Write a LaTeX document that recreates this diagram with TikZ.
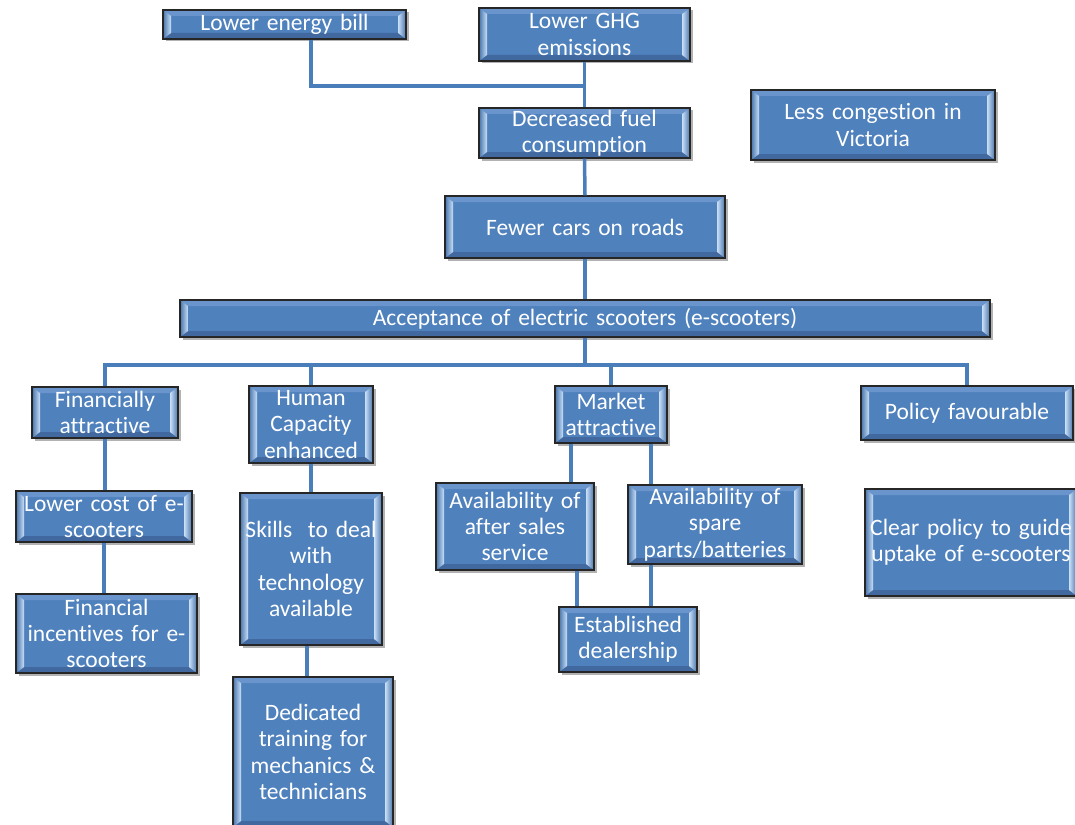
\documentclass[tikz,border=0pt]{standalone}
\usepackage{fontspec}
\setmainfont{Carlito}[Ligatures=NoCommon]
\usetikzlibrary{calc}

\definecolor{boxblue}{HTML}{4F81BD}
\definecolor{bevtop}{HTML}{6A95CC}
\definecolor{bevbot}{HTML}{41699F}
\definecolor{bevlight}{HTML}{C9DFF7}
\definecolor{linkblue}{HTML}{4A7EBB}

% one centred line that may run past the box edge without being re-broken
\newcommand\bxl[1]{\makebox[\hsize][c]{#1}}

\tikzset{
  bevelbox/.style n args={2}{
    minimum width=#1pt, text width=#1pt, minimum height=#2pt,
    inner sep=0pt, align=center, text=white,
    font=\fontsize{23.5}{26.3}\selectfont,
    fill=boxblue, draw=black!85, line width=1.3pt,
    preaction={fill=black, opacity=0.3,
      transform canvas={shift={(2.5pt,-2.5pt)}}},
    path picture={
      \coordinate (pnw) at (path picture bounding box.north west);
      \coordinate (pne) at (path picture bounding box.north east);
      \coordinate (psw) at (path picture bounding box.south west);
      \coordinate (pse) at (path picture bounding box.south east);
      \fill[bevtop] (pnw) -- (pne) -- ([xshift=-8pt,yshift=-6pt]pne)
        -- ([xshift=8pt,yshift=-6pt]pnw) -- cycle;
      \fill[bevbot] (psw) -- (pse) -- ([xshift=-8pt,yshift=6pt]pse)
        -- ([xshift=8pt,yshift=6pt]psw) -- cycle;
      \shade[left color=boxblue!90!black, right color=bevlight]
        (pnw) -- ([xshift=8pt,yshift=-6pt]pnw)
        -- ([xshift=8pt,yshift=6pt]psw) -- (psw) -- cycle;
      \shade[right color=boxblue!90!black, left color=bevlight]
        (pne) -- ([xshift=-8pt,yshift=-6pt]pne)
        -- ([xshift=-8pt,yshift=6pt]pse) -- (pse) -- cycle;
    }
  },
  link/.style={draw=linkblue, line width=3.5pt}
}

\begin{document}
\begin{tikzpicture}[x=1pt, y=-1pt]
  \useasboundingbox (0,0) rectangle (1075,824);

  % outcomes
  \node[bevelbox={243}{29}] (elec) at (284.5,24.5) {\bxl{Lower energy bill}};
  \node[bevelbox={211}{53}] (ghg) at (584.5,34.5) {\bxl{Lower GHG}\\\bxl{emissions}};
  \node[bevelbox={211}{50}] (fuel) at (584.5,133) {\bxl{Decreased fuel}\\\bxl{consumption}};
  \node[bevelbox={244}{70}] (cong) at (873,125) {\bxl{Less congestion in}\\\bxl{Victoria}};
  \node[bevelbox={280}{62}] (cars) at (585,227) {\bxl{Fewer cars on roads}};
  \node[bevelbox={810}{37}] (accept) at (585,318.5) {\bxl{Acceptance of electric scooters (e-scooters)}};

  % conditions
  \node[bevelbox={146}{51}] (fin) at (105,412.5) {\bxl{Financially}\\\bxl{attractive}};
  \node[bevelbox={124}{77}] (human) at (311,424.5) {\bxl{Human}\\\bxl{Capacity}\\\bxl{enhanced}};
  \node[bevelbox={112}{57}] (market) at (611,414.5) {\bxl{Market}\\\bxl{attractive}};
  \node[bevelbox={212}{54}] (policy) at (967,413) {\bxl{Policy favourable}};

  % supporting factors
  \node[bevelbox={176}{51}] (lcost) at (104,516.5) {\bxl{Lower cost of e-}\\\bxl{scooters}};
  \node[bevelbox={181}{79}] (incent) at (106.5,633.5) {\bxl{Financial}\\\bxl{incentives for e-}\\\bxl{scooters}};
  \node[bevelbox={142}{152}] (skills) at (311,569) {\bxl{Skills~ to deal}\\\bxl{with}\\\bxl{technology}\\\bxl{available}};
  \node[bevelbox={160}{150}] (train) at (313,752) {\bxl{Dedicated}\\\bxl{training for}\\\bxl{mechanics \&}\\\bxl{technicians}};
  \node[bevelbox={158}{87}] (after) at (515,526.5) {\bxl{Availability of}\\\bxl{after sales}\\\bxl{service}};
  \node[bevelbox={174}{79}] (spare) at (715,524.5) {\bxl{Availability of}\\\bxl{spare}\\\bxl{parts/batteries}};
  \node[bevelbox={138}{65}] (dealer) at (628,639.5) {\bxl{Established}\\\bxl{dealership}};
  \node[bevelbox={212}{107}] (clear) at (971,542.5) {\bxl{Clear policy to guide}\\\bxl{uptake of e-scooters}};

  % junction points
  \coordinate (topjoin) at (584.5,86);
  \coordinate (bus) at (585,365);

  % upper chain
  \draw[link] (ghg.south) -- (fuel.north);
  \draw[link] (elec.south -| 311,0) |- (topjoin);
  \draw[link] (fuel.south) -- (cars.north);
  \draw[link] (cars.south) -- (accept.north);

  % bus below the acceptance box
  \draw[link] (accept.south) -- (bus);
  \draw[link] (fin.north) |- (bus) -| (policy.north);
  \draw[link] (human.north) |- (bus);
  \draw[link] (market.north) |- (bus);

  % lower chains
  \draw[link] (fin.south) -- (fin.south |- lcost.north);
  \draw[link] (lcost.south) -- (lcost.south |- incent.north);
  \draw[link] (human.south) -- (skills.north);
  \draw[link] (skills.south -| 307,0) -- (train.north -| 307,0);
  \draw[link] (market.south -| 571,0) -- (after.north -| 571,0);
  \draw[link] (market.south -| 651,0) -- (spare.north -| 651,0);
  \draw[link] (after.south -| 577,0) -- (dealer.north -| 577,0);
  \draw[link] (spare.south -| 651,0) -- (dealer.north -| 651,0);
\end{tikzpicture}
\end{document}
